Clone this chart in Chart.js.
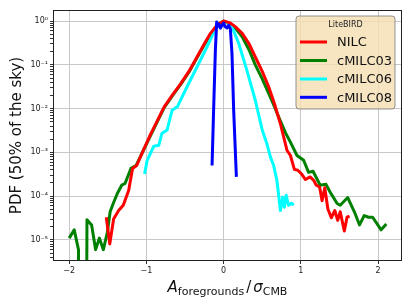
<!DOCTYPE html>
<html>
<head>
<meta charset="utf-8">
<script src="https://cdn.jsdelivr.net/npm/chart.js@4.4.1/dist/chart.umd.min.js"></script>
<style>
html, body { margin: 0; padding: 0; background: #fff; }
</style>
</head>
<body>
<canvas id="myChart" width="411" height="305"></canvas>
<script>
// PDF of foreground residuals, LiteBIRD
const nilcX = [-1.52, -1.475, -1.425, -1.36, -1.30, -1.23, -1.18, -1.127, -1.04, -0.95, -0.86, -0.77, -0.66, -0.56, -0.45, -0.345, -0.25, -0.17, -0.08, 0.0, 0.08, 0.16, 0.24, 0.33, 0.41, 0.50, 0.583, 0.66, 0.734, 0.82, 0.865, 0.916, 0.96, 1.01, 1.06, 1.12, 1.166, 1.20, 1.243, 1.275, 1.31, 1.35, 1.395, 1.44, 1.477, 1.51, 1.563, 1.598, 1.63];
const nilcY = [3.3e-5, 8.1e-6, 3.0e-5, 4.7e-5, 6.2e-5, 1.35e-4, 4.3e-4, 5.0e-4, 1.12e-3, 2.51e-3, 5.25e-3, 1.1e-2, 2.09e-2, 3.63e-2, 7.08e-2, 0.151, 0.302, 0.525, 0.832, 1.0, 0.912, 0.724, 0.525, 0.302, 0.151, 0.0708, 0.0316, 0.0126, 0.00457, 0.00112, 8.5e-4, 4.1e-4, 3.9e-4, 3.2e-4, 2.4e-4, 2.75e-4, 2.3e-4, 1.78e-4, 1.62e-4, 7.9e-5, 1.55e-4, 5.1e-5, 3.2e-5, 4.7e-5, 2.8e-5, 4.4e-5, 1.6e-5, 3.3e-5, 3.5e-5];

const cmilc03X = [-2.0, -1.935, -1.88, -1.83, -1.77, -1.71, -1.658, -1.61, -1.558, -1.506, -1.47, -1.43, -1.377, -1.32, -1.277, -1.20, -1.135, -1.06, -0.95, -0.86, -0.77, -0.66, -0.56, -0.45, -0.345, -0.25, -0.17, -0.08, 0.0, 0.08, 0.16, 0.24, 0.33, 0.41, 0.50, 0.583, 0.65, 0.712, 0.80, 0.863, 0.95, 1.036, 1.10, 1.158, 1.25, 1.326, 1.38, 1.47, 1.51, 1.607, 1.693, 1.76, 1.82, 1.877, 1.93, 2.04, 2.107];
// empty bin (zero) at -1.83 -> goes off the bottom like matplotlib
const cmilc03Y = [1.1e-5, 1.7e-5, 6.0e-6, 1e-30, 2.9e-5, 2.2e-5, 6.0e-6, 1.1e-5, 6.0e-6, 1.5e-5, 4.4e-5, 6.8e-5, 1.15e-4, 1.78e-4, 1.95e-4, 4.3e-4, 5.0e-4, 9.3e-4, 2.34e-3, 5.01e-3, 1.05e-2, 2.0e-2, 3.47e-2, 6.76e-2, 0.145, 0.288, 0.501, 0.813, 1.0, 0.871, 0.661, 0.437, 0.219, 0.1, 0.0479, 0.0224, 0.012, 0.00646, 0.00282, 0.00174, 8.5e-4, 6.6e-4, 3.5e-4, 3.7e-4, 1.78e-4, 1.86e-4, 1.23e-4, 6.8e-5, 6.2e-5, 9.3e-5, 4.4e-5, 2.2e-5, 3.6e-5, 3.3e-5, 3.3e-5, 1.7e-5, 2.3e-5];

const cmilc06X = [-1.024, -0.99, -0.95, -0.906, -0.84, -0.80, -0.733, -0.668, -0.60, -0.474, -0.345, -0.215, -0.107, -0.03, 0.03, 0.108, 0.195, 0.30, 0.41, 0.50, 0.56, 0.605, 0.648, 0.69, 0.735, 0.765, 0.786, 0.81, 0.84, 0.877, 0.907];
const cmilc06Y = [3.2e-4, 6.6e-4, 9.3e-4, 1.38e-3, 1.45e-3, 2.69e-3, 3.24e-3, 9.12e-3, 1.1e-2, 3.16e-2, 8.91e-2, 0.257, 0.676, 0.955, 0.955, 0.741, 0.309, 0.0759, 0.0155, 0.00324, 0.00158, 7.9e-4, 5.0e-4, 2.3e-4, 4.7e-5, 9.5e-5, 5.6e-5, 1.05e-4, 6.2e-5, 6.9e-5, 6.2e-5];

const cmilc08X = [-0.15, -0.13, -0.107, -0.09, -0.078, -0.06, -0.043, -0.02, 0.0, 0.02, 0.044, 0.065, 0.087, 0.108, 0.13, 0.165];
const cmilc08Y = [5.0e-4, 9.12e-3, 0.219, 0.955, 0.76, 0.85, 0.69, 0.8, 0.9, 0.74, 0.7, 0.8, 0.66, 0.182, 9.12e-3, 2.75e-4];

const seriesNames = ['NILC', 'cMILC03', 'cMILC06', 'cMILC08'];
const seriesColors = ['#ff0000', '#008000', '#00ffff', '#0000ff'];
const xTicks = [-2, -1, 0, 1, 2];
const yPowers = [-6, -5, -4, -3, -2, -1, 0];
const legendTitle = 'LiteBIRD';

const FONT = '"DejaVu Sans", sans-serif';
const sup = { '-': '\u207b', '0': '\u2070', '1': '\u00b9', '2': '\u00b2', '3': '\u00b3', '4': '\u2074', '5': '\u2075', '6': '\u2076' };

function toPoints(xs, ys) {
    return xs.map((x, i) => ({ x: x, y: ys[i] }));
}

function isPow10(v) {
    const l = Math.log10(v);
    return Math.abs(l - Math.round(l)) < 1e-6;
}

const allSeries = [
    [nilcX, nilcY, 1],
    [cmilc03X, cmilc03Y, 3],
    [cmilc06X, cmilc06Y, 2],
    [cmilc08X, cmilc08Y, 0]
];

const datasets = allSeries.map((s, i) => ({
    label: seriesNames[i],
    data: toPoints(s[0], s[1]),
    borderColor: seriesColors[i],
    borderWidth: 3,
    pointRadius: 0,
    fill: false,
    tension: 0,
    borderJoinStyle: 'round',
    order: s[2],
    clip: 0
}));

// frame, legend box and axis titles (mathtext-like x label)
const extras = {
    id: 'extras',
    afterDatasetsDraw(chart) {
        const ctx = chart.ctx;
        const a = chart.chartArea;
        ctx.save();
        ctx.strokeStyle = '#222';
        ctx.lineWidth = 1;
        ctx.strokeRect(a.left + 0.5, a.top + 0.5, a.right - a.left - 1, a.bottom - a.top - 1);

        // legend
        const bx = 296, by = 16, bw = 99, bh = 93, r = 3;
        ctx.beginPath();
        ctx.moveTo(bx + r, by);
        ctx.arcTo(bx + bw, by, bx + bw, by + bh, r);
        ctx.arcTo(bx + bw, by + bh, bx, by + bh, r);
        ctx.arcTo(bx, by + bh, bx, by, r);
        ctx.arcTo(bx, by, bx + bw, by, r);
        ctx.closePath();
        ctx.fillStyle = 'rgba(245,222,179,0.8)';
        ctx.fill();
        ctx.strokeStyle = 'rgba(120,120,120,0.8)';
        ctx.stroke();

        ctx.fillStyle = '#222';
        ctx.font = '8px ' + FONT;
        ctx.textAlign = 'center';
        ctx.textBaseline = 'middle';
        ctx.fillText(legendTitle, bx + bw / 2, 25);

        const rows = [42, 60.5, 79, 97.3];
        ctx.font = '13px ' + FONT;
        ctx.textAlign = 'left';
        seriesNames.forEach((name, i) => {
            ctx.strokeStyle = seriesColors[i];
            ctx.lineWidth = 3;
            ctx.beginPath();
            ctx.moveTo(300, rows[i]);
            ctx.lineTo(327, rows[i]);
            ctx.stroke();
            ctx.fillStyle = '#111';
            ctx.fillText(name, 337, rows[i] + 1);
        });
        ctx.restore();
    },
    afterDraw(chart) {
        const ctx = chart.ctx;
        const a = chart.chartArea;
        ctx.save();
        ctx.fillStyle = '#111';
        ctx.textBaseline = 'alphabetic';
        ctx.textAlign = 'left';

        // x title: A_foregrounds / sigma_CMB
        const parts = [
            { t: 'A', f: 'italic 15px ' + FONT, dy: 0, pad: 0 },
            { t: 'foregrounds', f: '11px ' + FONT, dy: 3, pad: 0 },
            { t: '/', f: '15px ' + FONT, dy: 0, pad: 2 },
            { t: '\u03c3', f: 'italic 15px ' + FONT, dy: 0, pad: 0 },
            { t: 'CMB', f: '11px ' + FONT, dy: 3, pad: 0 }
        ];
        let total = 0;
        parts.forEach(p => {
            ctx.font = p.f;
            p.w = ctx.measureText(p.t).width;
            total += p.w + 2 * p.pad;
        });
        let x = (a.left + a.right) / 2 - total / 2;
        parts.forEach(p => {
            ctx.font = p.f;
            ctx.fillText(p.t, x + p.pad, 292 + p.dy);
            x += p.w + 2 * p.pad;
        });

        // y title
        ctx.translate(20.5, (a.top + a.bottom) / 2);
        ctx.rotate(-Math.PI / 2);
        ctx.textAlign = 'center';
        ctx.font = '15px ' + FONT;
        ctx.fillText('PDF (50% of the sky)', 0, 0);
        ctx.restore();
    }
};

const ctx = document.getElementById('myChart').getContext('2d');
const myChart = new Chart(ctx, {
    type: 'line',
    data: { datasets: datasets },
    options: {
        responsive: false,
        devicePixelRatio: 1,
        animation: false,
        layout: { padding: { top: 10, right: 9, left: 0, bottom: 0 } },
        plugins: {
            legend: { display: false },
            tooltip: { enabled: false }
        },
        scales: {
            x: {
                type: 'linear',
                min: -2.21,
                max: 2.31,
                afterBuildTicks: s => { s.ticks = xTicks.map(v => ({ value: v })); },
                afterFit: s => { s.height = 44; },
                border: { display: false },
                grid: { color: '#c8c8c8', lineWidth: 1, tickLength: 3, tickColor: '#333' },
                ticks: {
                    maxRotation: 0,
                    minRotation: 0,
                    padding: 2,
                    color: '#222',
                    font: { family: 'DejaVu Sans', size: 8 },
                    callback: v => String(v).replace('-', '\u2212')
                }
            },
            y: {
                type: 'logarithmic',
                min: 3.3e-6,
                max: 1.79,
                afterBuildTicks: s => {
                    const t = [];
                    yPowers.forEach(e => {
                        for (let m = 1; m <= 9; m++) {
                            const v = m * Math.pow(10, e);
                            if (v >= s.min && v <= s.max) t.push({ value: v });
                        }
                    });
                    s.ticks = t;
                },
                afterFit: s => { s.width = 53; },
                border: { display: false },
                grid: {
                    color: c => (c.tick && isPow10(c.tick.value)) ? '#c8c8c8' : 'rgba(0,0,0,0)',
                    lineWidth: 1,
                    tickLength: 3,
                    tickColor: '#333'
                },
                ticks: {
                    autoSkip: false,
                    padding: 2,
                    color: '#222',
                    font: { family: 'DejaVu Sans', size: 8 },
                    callback: v => {
                        if (!isPow10(v)) return '';
                        const e = Math.round(Math.log10(v));
                        return '10' + String(e).split('').map(ch => sup[ch]).join('');
                    }
                }
            }
        }
    },
    plugins: [extras]
});
</script>
</body>
</html>
